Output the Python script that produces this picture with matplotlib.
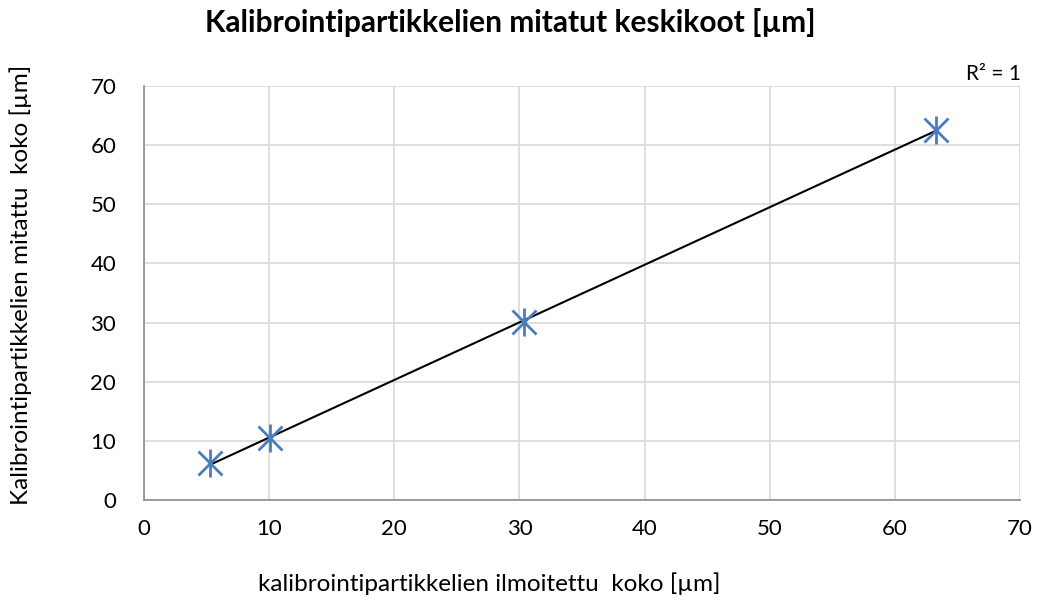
import numpy as np
import matplotlib.pyplot as plt

plt.rcParams['font.family'] = ['Lato', 'DejaVu Sans']

# data
ilmoitettu = [5.3, 10.1, 30.4, 63.3]
mitattu = [6.3, 10.5, 30.1, 62.6]
ticks = [0, 10, 20, 30, 40, 50, 60, 70]

fig = plt.figure(figsize=(10.42, 6), dpi=100)
ax = fig.add_axes([0.1382, 0.1667, 0.8407, 0.69])

# linear trendline over the data range
k, b = np.polyfit(ilmoitettu, mitattu, 1)
xs = np.array([min(ilmoitettu), max(ilmoitettu)])
ax.plot(xs, k * xs + b, color='black', lw=1.5, zorder=2)

# asterisk marker = x + vertical bar
ax.plot(ilmoitettu, mitattu, ls='none', marker='x', ms=17,
        mec='#4a7ebb', mew=2, zorder=3)
ax.plot(ilmoitettu, mitattu, ls='none', marker='|', ms=20,
        mec='#4a7ebb', mew=2, zorder=3)

ax.set_xlim(0, 70)
ax.set_ylim(0, 70)
ax.set_xticks(ticks)
ax.set_yticks(ticks)
ax.tick_params(length=0, labelsize=16, colors='black')
ax.tick_params(axis='x', pad=14)
ax.tick_params(axis='y', pad=20)
ax.grid(True, color='#d9d9d9', lw=1.2)
ax.set_axisbelow(True)
for s in ['top', 'right']:
    ax.spines[s].set_visible(False)
for s in ['left', 'bottom']:
    ax.spines[s].set_color('#8c8c8c')
    ax.spines[s].set_linewidth(1.2)

fig.text(0.470, 0.028, 'kalibrointipartikkelien ilmoitettu  koko [µm]',
         ha='center', va='center', fontsize=17.5)
fig.text(0.020, 0.525, 'Kalibrointipartikkelien mitattu  koko [µm]',
         ha='center', va='center', rotation=90, fontsize=17.5)
fig.text(0.4894, 0.963, 'Kalibrointipartikkelien mitatut keskikoot [µm]',
         ha='center', va='center', fontsize=21.5, fontweight='bold')
fig.text(0.980, 0.877, 'R² = 1', ha='right', va='center', fontsize=15)

fig.savefig('out.png', dpi=100)
